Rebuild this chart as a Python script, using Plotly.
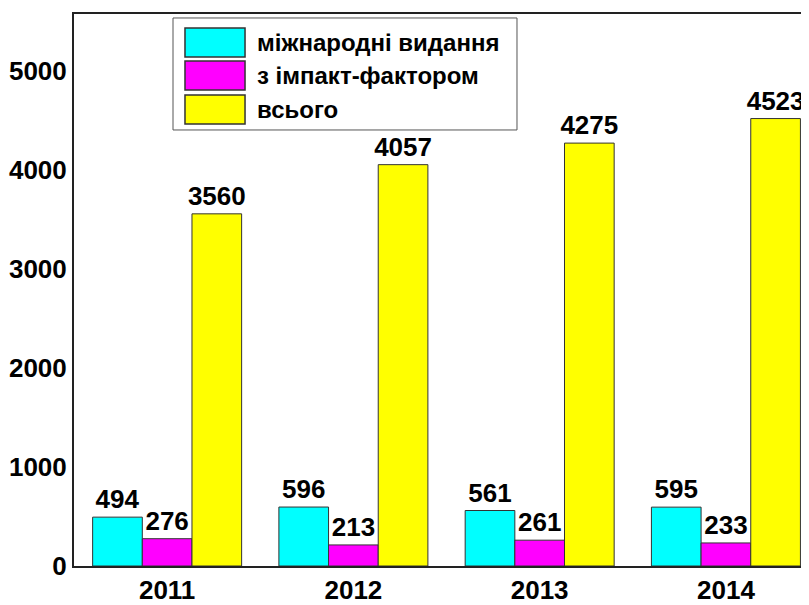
import plotly.graph_objects as go

years = ["2011", "2012", "2013", "2014"]
series_names = ["міжнародні видання", "з імпакт-фактором", "всього"]
international = [494, 596, 561, 595]
impact_factor = [276, 213, 261, 233]
total = [3560, 4057, 4275, 4523]
y_ticks = [0, 1000, 2000, 3000, 4000, 5000]

colors = ["#00ffff", "#ff00ff", "#ffff00"]
FONT = "Liberation Sans, Arial, sans-serif"
NUM_SIZE = 26

fig = go.Figure()
for name, vals, col in zip(series_names, [international, impact_factor, total], colors):
    fig.add_trace(go.Bar(
        x=years, y=vals, name=name,
        marker=dict(color=col, line=dict(color="#333333", width=1)),
        text=[str(v) for v in vals],
        textposition="outside",
        constraintext="none",
        cliponaxis=False,
        textfont=dict(family=FONT, size=NUM_SIZE, color="black", weight="bold"),
    ))

# hand-made legend (big swatches like the original)
row_top = [0.9746, 0.9149, 0.8533]
row_h = 0.0525
shapes = [dict(type="rect", xref="paper", yref="paper",
               x0=0.1347, x1=0.6027, y0=0.7899, y1=0.9928,
               line=dict(color="#555555", width=1), fillcolor="white", layer="above")]
annotations = []
for name, col, top in zip(series_names, colors, row_top):
    shapes.append(dict(type="rect", xref="paper", yref="paper",
                       x0=0.151, x1=0.2327, y0=top - row_h, y1=top,
                       line=dict(color="#333333", width=1.5), fillcolor=col, layer="above"))
    annotations.append(dict(xref="paper", yref="paper", x=0.2463, y=top - row_h / 2,
                            text=name, showarrow=False, xanchor="left", yanchor="middle",
                            font=dict(family=FONT, size=24, color="black", weight="bold")))

# page body adds an 8px offset, so the figure is 8px smaller and margins shifted
fig.update_layout(
    width=801, height=597,
    template="none",
    margin=dict(l=66, r=0, t=6, b=39),
    plot_bgcolor="white", paper_bgcolor="white",
    showlegend=False,
    barmode="group", bargap=0.2, bargroupgap=0,
    shapes=shapes, annotations=annotations,
    font=dict(family=FONT, size=NUM_SIZE, color="black", weight="bold"),
)
fig.update_xaxes(
    type="category", range=[-0.5, 3.446],
    showline=True, linecolor="#222222", linewidth=2, mirror=True,
    showgrid=False, ticks="", automargin=False,
    tickfont=dict(family=FONT, size=NUM_SIZE, color="black", weight="bold"),
)
fig.update_yaxes(
    range=[0, 5580], tickvals=y_ticks,
    showline=True, linecolor="#222222", linewidth=2, mirror=False,
    showgrid=False, zeroline=False, ticks="", automargin=False,
    tickfont=dict(family=FONT, size=NUM_SIZE, color="black", weight="bold"),
)

fig.write_html("out.html")
